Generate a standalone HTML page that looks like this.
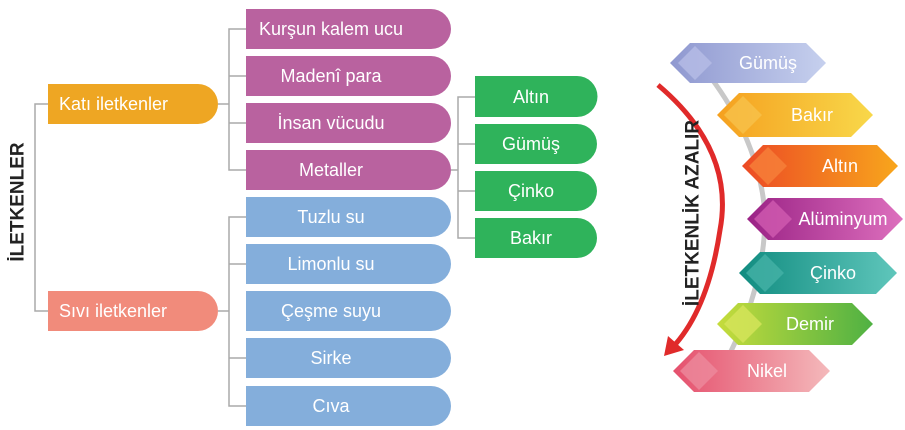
<!DOCTYPE html>
<html><head><meta charset="utf-8"><style>
html,body{margin:0;padding:0;background:#fff;}
svg{display:block;font-family:"Liberation Sans",sans-serif;}
</style></head><body>
<svg width="905" height="430" viewBox="0 0 905 430" xmlns="http://www.w3.org/2000/svg">
<defs>
<linearGradient id="g1" x1="0" x2="1"><stop offset="0" stop-color="#8f98d0"/><stop offset="1" stop-color="#c6d0ee"/></linearGradient>
<linearGradient id="g2" x1="0" x2="1"><stop offset="0" stop-color="#f5a01f"/><stop offset="1" stop-color="#f8d84a"/></linearGradient>
<linearGradient id="g3" x1="0" x2="1"><stop offset="0" stop-color="#ec4a25"/><stop offset="1" stop-color="#f8a61c"/></linearGradient>
<linearGradient id="g4" x1="0" x2="1"><stop offset="0" stop-color="#9b2386"/><stop offset="1" stop-color="#dd6fbd"/></linearGradient>
<linearGradient id="g5" x1="0" x2="1"><stop offset="0" stop-color="#118c80"/><stop offset="1" stop-color="#5fc6bb"/></linearGradient>
<linearGradient id="g6" x1="0" x2="1"><stop offset="0" stop-color="#c6dc3c"/><stop offset="1" stop-color="#4fb143"/></linearGradient>
<linearGradient id="g7" x1="0" x2="1"><stop offset="0" stop-color="#e5506d"/><stop offset="1" stop-color="#f4b9bb"/></linearGradient>
</defs>
<g stroke="#aaa" stroke-width="1.5" fill="none">
<path d="M48 104H35V311H48"/>
<path d="M218 104H229M246 29H229V170H246M229 76H246M229 123H246"/>
<path d="M218 311H229M246 217H229V406H246M229 264H246M229 358H246"/>
<path d="M451 170H458M475 97H458V238H475M458 144H475M458 191H475"/>
</g>
<text x="18" y="202" transform="rotate(-90 18 202)" text-anchor="middle" dominant-baseline="central" font-size="19" font-weight="bold" fill="#222">İLETKENLER</text>
<g font-size="18" fill="#fff">
<path d="M48 84H198a20 20 0 0 1 0 40H48Z" fill="#eea623"/>
<text x="59" y="110">Katı iletkenler</text>
<path d="M48 291H198a20 20 0 0 1 0 40H48Z" fill="#f18b7b"/>
<text x="59" y="317">Sıvı iletkenler</text>
<g fill="#b9629f">
<path d="M246 9H431a20 20 0 0 1 0 40H246Z"/>
<path d="M246 56H431a20 20 0 0 1 0 40H246Z"/>
<path d="M246 103H431a20 20 0 0 1 0 40H246Z"/>
<path d="M246 150H431a20 20 0 0 1 0 40H246Z"/>
</g>
<g fill="#84aedb">
<path d="M246 197H431a20 20 0 0 1 0 40H246Z"/>
<path d="M246 244H431a20 20 0 0 1 0 40H246Z"/>
<path d="M246 291H431a20 20 0 0 1 0 40H246Z"/>
<path d="M246 338H431a20 20 0 0 1 0 40H246Z"/>
<path d="M246 386H431a20 20 0 0 1 0 40H246Z"/>
</g>
<g fill="#2fb35b">
<path d="M475 76H577a20 20 0 0 1 0 41H475Z"/>
<path d="M475 124H577a20 20 0 0 1 0 40H475Z"/>
<path d="M475 171H577a20 20 0 0 1 0 40H475Z"/>
<path d="M475 218H577a20 20 0 0 1 0 40H475Z"/>
</g>
<g text-anchor="middle">
<text x="331" y="35">Kurşun kalem ucu</text>
<text x="331" y="82">Madenî para</text>
<text x="331" y="129">İnsan vücudu</text>
<text x="331" y="176">Metaller</text>
<text x="331" y="223">Tuzlu su</text>
<text x="331" y="270">Limonlu su</text>
<text x="331" y="317">Çeşme suyu</text>
<text x="331" y="364">Sirke</text>
<text x="331" y="412">Cıva</text>
<text x="531" y="103">Altın</text>
<text x="531" y="150">Gümüş</text>
<text x="531" y="197">Çinko</text>
<text x="531" y="244">Bakır</text>
</g>
</g>
<path d="M705 70 Q760 140 765 215 Q765 300 712 385" stroke="#c8c8c8" stroke-width="5" fill="none"/>
<g font-size="18" fill="#fff" text-anchor="middle">
<polygon points="670,63 690,43 806,43 826,63 806,83 690,83" fill="url(#g1)"/>
<polygon points="678,63 695,46 712,63 695,80" fill="#b6bde6" opacity=".8"/>
<text x="768" y="69">Gümüş</text>
<polygon points="717,115 739,93 851,93 873,115 851,137 739,137" fill="url(#g2)"/>
<polygon points="724,115 743,96 762,115 743,134" fill="#f7c24b" opacity=".8"/>
<text x="812" y="121">Bakır</text>
<polygon points="742,166 763,145 877,145 898,166 877,187 763,187" fill="url(#g3)"/>
<polygon points="749,166 768,147 787,166 768,185" fill="#f6813a" opacity=".8"/>
<text x="840" y="172">Altın</text>
<polygon points="747,219 768,198 882,198 903,219 882,240 768,240" fill="url(#g4)"/>
<polygon points="754,219 773,200 792,219 773,238" fill="#d15bb0" opacity=".8"/>
<text x="843" y="225">Alüminyum</text>
<polygon points="739,273 760,252 876,252 897,273 876,294 760,294" fill="url(#g5)"/>
<polygon points="746,273 765,254 784,273 765,292" fill="#45b2a6" opacity=".8"/>
<text x="833" y="279">Çinko</text>
<polygon points="717,324 738,303 852,303 873,324 852,345 738,345" fill="url(#g6)"/>
<polygon points="724,324 743,305 762,324 743,343" fill="#d6e55b" opacity=".8"/>
<text x="810" y="330">Demir</text>
<polygon points="673,371 694,350 809,350 830,371 809,392 694,392" fill="url(#g7)"/>
<polygon points="680,371 699,352 718,371 699,390" fill="#ec8a9c" opacity=".8"/>
<text x="767" y="377">Nikel</text>
</g>
<path d="M658 85 Q735 150 720 230 Q708 310 672 348" stroke="#e02a2a" stroke-width="5" fill="none"/>
<polygon points="664,356 668,336 684,350" fill="#e02a2a"/>
<text x="693" y="213" transform="rotate(-90 693 213)" text-anchor="middle" dominant-baseline="central" font-size="19" font-weight="bold" fill="#222">İLETKENLİK AZALIR</text>
</svg>
</body></html>
